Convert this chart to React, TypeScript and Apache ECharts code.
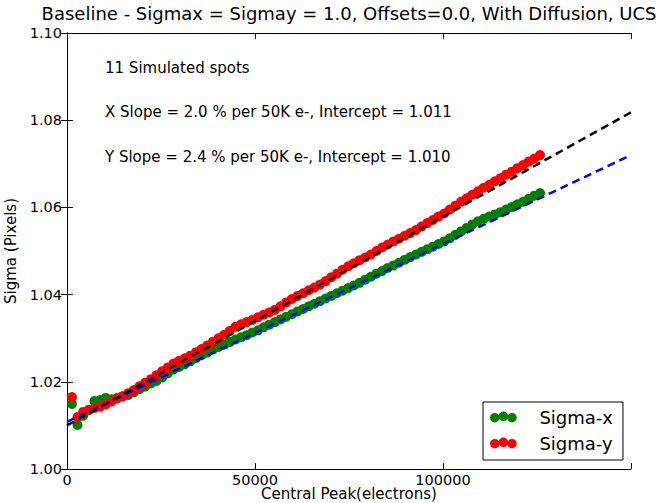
import React, { useEffect, useRef } from "react";
import * as echarts from "echarts";

const titleText = "Baseline - Sigmax = Sigmay = 1.0, Offsets=0.0, With Diffusion, UCS";
const xAxisName = "Central Peak(electrons)";
const yAxisName = "Sigma (Pixels)";
const notes = [
  "11 Simulated spots",
  "X Slope = 2.0 % per 50K e-, Intercept = 1.011",
  "Y Slope = 2.4 % per 50K e-, Intercept = 1.010",
];
const xTicks = [0, 50000, 100000, 150000];
const yTicks = [1.0, 1.02, 1.04, 1.06, 1.08, 1.1];

const sigmaX: [number, number][] = [
  [1300, 1.0149], [2800, 1.0101], [4300, 1.0122], [5800, 1.0135], [7300, 1.0156], [8800, 1.0158],
  [10300, 1.0163], [11800, 1.016], [13300, 1.0162], [14800, 1.0166], [16300, 1.017], [17800, 1.0176],
  [19300, 1.0183], [20800, 1.0189], [22300, 1.0196], [23800, 1.0202], [25300, 1.021], [26800, 1.0219],
  [28300, 1.0228], [29800, 1.0234], [31300, 1.024], [32800, 1.0247], [34300, 1.0254], [35800, 1.0261],
  [37300, 1.0267], [38800, 1.0274], [40300, 1.028], [41800, 1.0285], [43300, 1.0291], [44800, 1.0297],
  [46300, 1.0302], [47800, 1.0307], [49300, 1.0313], [50800, 1.0318], [52300, 1.0325], [53800, 1.0331],
  [55300, 1.0337], [56800, 1.0343], [58300, 1.0349], [59800, 1.0355], [61300, 1.0361], [62800, 1.0367],
  [64300, 1.0373], [65800, 1.0379], [67300, 1.0385], [68800, 1.0391], [70300, 1.0397], [71800, 1.0403],
  [73300, 1.0409], [74800, 1.0415], [76300, 1.0421], [77800, 1.0427], [79300, 1.0434], [80800, 1.0441],
  [82300, 1.0448], [83800, 1.0454], [85300, 1.0461], [86800, 1.0467], [88300, 1.0473], [89800, 1.048],
  [91300, 1.0486], [92800, 1.0492], [94300, 1.0498], [95800, 1.0504], [97300, 1.051], [98800, 1.0516],
  [100300, 1.0522], [101800, 1.0529], [103300, 1.0537], [104800, 1.0545], [106300, 1.0553], [107800, 1.0561],
  [109300, 1.0568], [110800, 1.0574], [112300, 1.0579], [113800, 1.0584], [115300, 1.0589], [116800, 1.0595],
  [118300, 1.0601], [119800, 1.0607], [121300, 1.0613], [122800, 1.062], [124300, 1.0627], [125800, 1.0633],
];

const sigmaY: [number, number][] = [
  [1300, 1.0165], [2800, 1.0119], [4300, 1.0131], [5800, 1.0136], [7300, 1.014], [8800, 1.0143],
  [10300, 1.0148], [11800, 1.0155], [13300, 1.0162], [14800, 1.0167], [16300, 1.0174], [17800, 1.0181],
  [19300, 1.019], [20800, 1.0198], [22300, 1.0206], [23800, 1.0215], [25300, 1.0224], [26800, 1.0233],
  [28300, 1.0242], [29800, 1.0248], [31300, 1.0254], [32800, 1.026], [34300, 1.0268], [35800, 1.0275],
  [37300, 1.0283], [38800, 1.0292], [40300, 1.03], [41800, 1.0308], [43300, 1.0317], [44800, 1.0326],
  [46300, 1.0332], [47800, 1.0337], [49300, 1.0342], [50800, 1.0348], [52300, 1.0354], [53800, 1.0359],
  [55300, 1.0365], [56800, 1.0373], [58300, 1.0382], [59800, 1.039], [61300, 1.0397], [62800, 1.0403],
  [64300, 1.041], [65800, 1.0416], [67300, 1.0423], [68800, 1.0431], [70300, 1.044], [71800, 1.0448],
  [73300, 1.0457], [74800, 1.0465], [76300, 1.0472], [77800, 1.0479], [79300, 1.0485], [80800, 1.0492],
  [82300, 1.05], [83800, 1.0508], [85300, 1.0515], [86800, 1.0522], [88300, 1.0528], [89800, 1.0535],
  [91300, 1.0541], [92800, 1.0548], [94300, 1.0556], [95800, 1.0564], [97300, 1.0571], [98800, 1.0579],
  [100300, 1.0586], [101800, 1.0595], [103300, 1.0604], [104800, 1.0613], [106300, 1.0621], [107800, 1.0629],
  [109300, 1.0637], [110800, 1.0645], [112300, 1.0652], [113800, 1.066], [115300, 1.0667], [116800, 1.0675],
  [118300, 1.0682], [119800, 1.069], [121300, 1.0697], [122800, 1.0705], [124300, 1.0712], [125800, 1.072],
];

const fitX: [number, number][] = [[0, 1.0108], [150000, 1.072]];
const fitY: [number, number][] = [[0, 1.01], [150000, 1.0818]];

const FONT = "DejaVu Sans";
const legendIcon =
  "path://M0,6a5,5 0 1,0 10,0a5,5 0 1,0 -10,0Z M9,4.5a5,5 0 1,0 10,0a5,5 0 1,0 -10,0Z M18,6a5,5 0 1,0 10,0a5,5 0 1,0 -10,0Z";

export default function App() {
  const ref = useRef<HTMLDivElement>(null);
  useEffect(() => {
    if (!ref.current) return;
    const chart = echarts.init(ref.current, null, { renderer: "svg" });
    const axisLine = { show: true, lineStyle: { color: "#000", width: 1 } };
    const tick = { show: true, inside: true, length: 6, lineStyle: { color: "#000", width: 1 } };
    chart.setOption({
      animation: false,
      backgroundColor: "#fff",
      textStyle: { fontFamily: FONT },
      title: {
        text: titleText,
        left: 349,
        textAlign: "center",
        top: 3,
        padding: 0,
        textStyle: { fontFamily: FONT, fontSize: 18, lineHeight: 20, fontWeight: "normal", color: "#000" },
      },
      grid: { left: 67, right: 31, top: 33, bottom: 34, containLabel: false, outerBoundsMode: "none" },
      legend: {
        data: ["Sigma-x", "Sigma-y"],
        orient: "vertical",
        left: 483,
        top: 402,
        padding: [5, 10, 7, 7],
        itemGap: 6,
        itemWidth: 28,
        itemHeight: 11,
        icon: legendIcon,
        borderColor: "#000",
        borderWidth: 1,
        backgroundColor: "#fff",
        textStyle: { fontFamily: FONT, fontSize: 18, color: "#000", lineHeight: 20, padding: [0, 0, 0, 17] },
      },
      xAxis: [
        {
          type: "value",
          min: xTicks[0],
          max: xTicks[xTicks.length - 1],
          interval: 50000,
          name: xAxisName,
          nameLocation: "middle",
          nameGap: 17,
          nameMoveOverlap: false,
          nameTextStyle: { fontFamily: FONT, fontSize: 15, lineHeight: 15, color: "#000" },
          axisLine,
          axisTick: tick,
          splitLine: { show: false },
          axisLabel: {
            margin: 3,
            fontFamily: FONT,
            fontSize: 14.5,
            color: "#000",
            formatter: (v: number) => (v === 150000 ? "" : String(v)),
          },
        },
        {
          type: "value",
          position: "top",
          min: xTicks[0],
          max: xTicks[xTicks.length - 1],
          interval: 50000,
          axisLine,
          axisTick: tick,
          axisLabel: { show: false },
          splitLine: { show: false },
        },
      ],
      yAxis: [
        {
          type: "value",
          min: yTicks[0],
          max: yTicks[yTicks.length - 1],
          interval: 0.02,
          name: yAxisName,
          nameLocation: "middle",
          nameGap: 41,
          nameTextStyle: { fontFamily: FONT, fontSize: 15, color: "#000" },
          axisLine,
          axisTick: tick,
          splitLine: { show: false },
          axisLabel: {
            margin: 5,
            fontFamily: FONT,
            fontSize: 14.5,
            color: "#000",
            formatter: (v: number) => v.toFixed(2),
          },
        },
        {
          type: "value",
          position: "right",
          min: yTicks[0],
          max: yTicks[yTicks.length - 1],
          interval: 0.02,
          axisLine,
          axisTick: tick,
          axisLabel: { show: false },
          splitLine: { show: false },
        },
      ],
      graphic: notes.map((t, i) => ({
        type: "text",
        left: 105,
        top: [60, 104, 149][i],
        style: { text: t, fontFamily: FONT, fontSize: 15, fill: "#000" },
      })),
      series: [
        {
          name: "Sigma-x",
          type: "scatter",
          data: sigmaX,
          symbol: "circle",
          symbolSize: 10,
          itemStyle: { color: "#008000", opacity: 1 },
          z: 2,
        },
        {
          name: "Sigma-y",
          type: "scatter",
          data: sigmaY,
          symbol: "circle",
          symbolSize: 10,
          itemStyle: { color: "#ff0000", opacity: 1 },
          z: 3,
        },
        {
          name: "Fit X",
          type: "line",
          data: fitX,
          showSymbol: false,
          symbol: "none",
          lineStyle: { color: "#0000ff", width: 2.5, type: [8, 5] },
          z: 4,
        },
        {
          name: "Fit Y",
          type: "line",
          data: fitY,
          showSymbol: false,
          symbol: "none",
          lineStyle: { color: "#000000", width: 2.5, type: [8, 5] },
          z: 5,
        },
      ],
    });
    return () => chart.dispose();
  }, []);
  return (
    <div
      ref={ref}
      style={{ position: "fixed", left: 0, top: 0, width: 662, height: 503 }}
    />
  );
}
